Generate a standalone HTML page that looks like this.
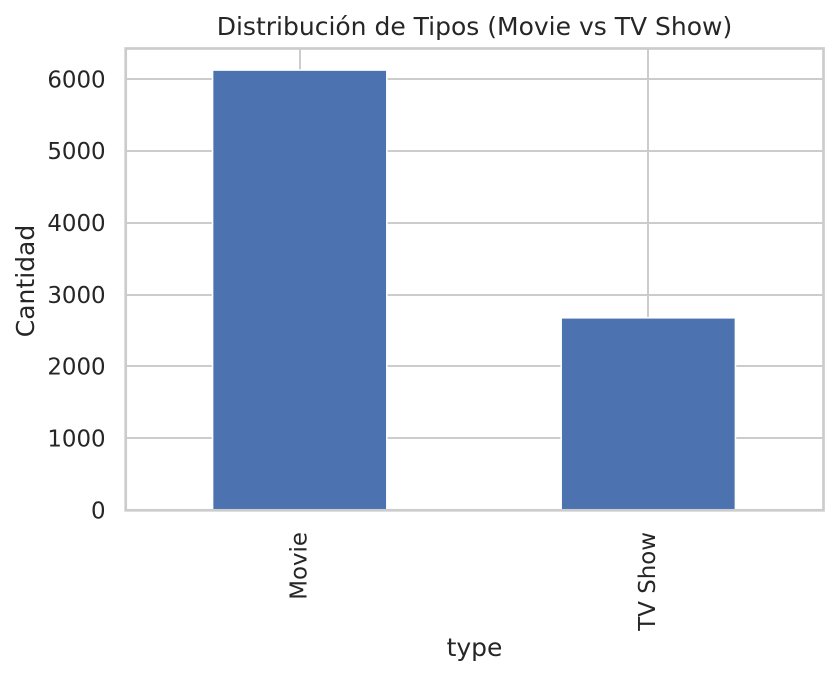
<!DOCTYPE html>
<html lang="es">
<head>
<meta charset="utf-8">
<title>Distribución de Tipos</title>
<style>
html,body{margin:0;padding:0;background:#fff;}
svg{display:block;}
text{font-family:"DejaVu Sans","Liberation Sans",sans-serif;fill:#262626;}
</style>
</head>
<body>
<svg id="chart" xmlns="http://www.w3.org/2000/svg" width="837" height="676" viewBox="0 0 837 676"></svg>
<script>
const categories = ["Movie", "TV Show"];
const counts = [6125, 2676];
const yTicks = [0, 1000, 2000, 3000, 4000, 5000, 6000];
const chartTitle = "Distribución de Tipos (Movie vs TV Show)";
const xTitle = "type";
const yTitle = "Cantidad";

const plot = { left: 125.7, right: 823.5, top: 48.5, bottom: 510.3 };
const xRange = { start: 125.4, end: 822.6 };
const yBase = 510;
const yMax = 6425;
const x = function (i) { return xRange.start + (i + 0.5) / categories.length * (xRange.end - xRange.start); };
const y = function (v) { return yBase - v / yMax * (yBase - plot.top); };
const band = (xRange.end - xRange.start) / categories.length * 0.5;
const svg = document.getElementById('chart');

function make(tag, attrs, txt) {
  const el = document.createElementNS('http://www.w3.org/2000/svg', tag);
  Object.keys(attrs).forEach(function (k) { el.setAttribute(k, attrs[k]); });
  if (txt !== undefined) el.textContent = txt;
  svg.appendChild(el);
  return el;
}

yTicks.forEach(function (t) {
  const g = make('line', { x1: plot.left, x2: plot.right, y1: Math.round(y(t)), y2: Math.round(y(t)), stroke: '#cccccc', 'stroke-width': 2 });
  
  
  const l = make('text', { x: 105.6, y: y(t) + 8.3, 'text-anchor': 'end', 'font-size': 22.9 }, String(t));
  
  
});

categories.forEach(function (c, i) {
  const gx = Math.round(x(i));
  const g = make('line', { x1: gx, x2: gx, y1: plot.top, y2: plot.bottom, stroke: '#cccccc', 'stroke-width': 2 });
  
  
});

categories.forEach(function (c, i) {
  const b = make('rect', {
    x: x(i) - band / 2, y: y(counts[i]), width: band, height: yBase - y(counts[i]),
    fill: '#4c72b0', stroke: '#ffffff', 'stroke-width': 1.6
  });
  
  
  const cx = x(i) + 6.6;
  const l = make('text', {
    x: cx, y: 532, 'text-anchor': 'end', 'font-size': 22.9,
    transform: 'rotate(-90 ' + cx + ' 532)'
  }, c);
  
  
});

const frame = make('rect', {
  x: plot.left, y: plot.top, width: plot.right - plot.left, height: plot.bottom - plot.top,
  fill: 'none', stroke: '#cccccc', 'stroke-width': 2.7
});



const titleEl = make('text', { x: 474.5, y: 35, 'text-anchor': 'middle', 'font-size': 25 }, chartTitle);



const xTitleEl = make('text', { x: 474.5, y: 656, 'text-anchor': 'middle', 'font-size': 25 }, xTitle);



const yTitleEl = make('text', { x: 34, y: 281, 'text-anchor': 'middle', 'font-size': 25, transform: 'rotate(-90 34 281)' }, yTitle);


</script>
</body>
</html>
